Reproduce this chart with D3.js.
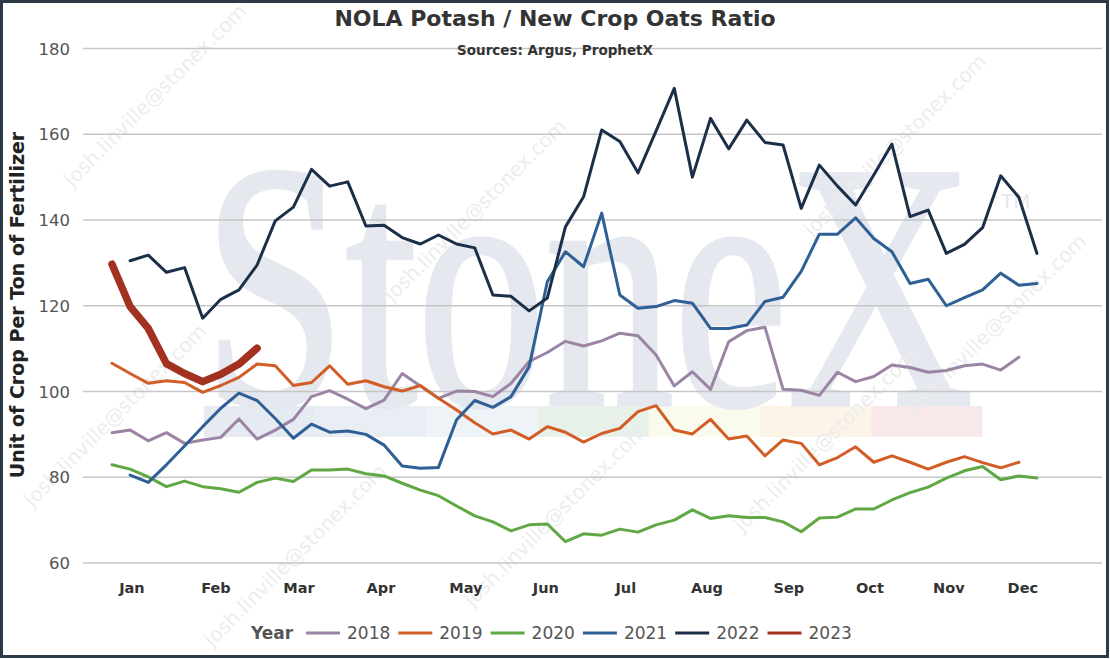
<!DOCTYPE html>
<html>
<head>
<meta charset="utf-8">
<script src="https://cdn.jsdelivr.net/npm/d3@7"></script>
<style>
  html, body { margin: 0; padding: 0; background: #fff; }
  svg { display: block; font-family: "DejaVu Sans", Verdana, sans-serif; }
</style>
</head>
<body>
<svg id="chart" width="1110" height="659"></svg>
<script>
  // weekly ratio values (index = week of year)
  const years = ['2018', '2019', '2020', '2021', '2022', '2023'];
  const startWeek = [0, 0, 0, 1, 1, 0];

  const y2018 = [90.4, 91.0, 88.5, 90.4, 87.9, 88.7, 89.3, 93.6, 88.9, 91.0, 93.5, 98.8, 100.2, 98.2, 96.0,
    98.0, 104.2, 101.3, 98.4, 100.1, 100.0, 98.8, 101.9, 107.0, 109.1, 111.7, 110.6, 111.8, 113.6, 113.0,
    108.5, 101.3, 104.6, 100.5, 111.6, 114.2, 115.0, 100.5, 100.3, 99.1, 104.5, 102.3, 103.5, 106.2, 105.6,
    104.5, 104.9, 106.0, 106.4, 105.0, 108.0];
  const y2019 = [106.6, 104.2, 101.9, 102.5, 102.1, 99.8, 101.4, 103.3, 106.4, 106.0, 101.4, 102.1, 106.0, 101.7,
    102.5, 101.1, 100.1, 101.4, 98.4, 95.7, 92.7, 90.1, 91.0, 88.9, 91.8, 90.5, 88.2, 90.2, 91.4, 95.3, 96.7,
    91.0, 90.1, 93.5, 88.9, 89.6, 85.0, 88.7, 87.9, 82.9, 84.6, 87.1, 83.5, 85.0, 83.5, 81.9, 83.5, 84.8,
    83.4, 82.2, 83.5];
  const y2020 = [82.9, 81.9, 80.1, 77.8, 79.1, 77.8, 77.3, 76.5, 78.8, 79.8, 79.0, 81.7, 81.7, 81.9, 80.8, 80.3,
    78.6, 77.0, 75.7, 73.3, 71.0, 69.6, 67.5, 68.9, 69.1, 65.0, 66.8, 66.5, 67.9, 67.2, 68.9, 70.0, 72.4,
    70.4, 71.0, 70.6, 70.6, 69.6, 67.3, 70.5, 70.7, 72.6, 72.6, 74.7, 76.4, 77.7, 79.8, 81.5, 82.5, 79.4,
    80.3, 79.8];
  const y2021 = [80.5, 78.8, 82.9, 87.3, 91.8, 96.1, 99.6, 97.9, 93.7, 89.1, 92.4, 90.5, 90.8, 90.0, 87.5, 82.6,
    82.1, 82.3, 93.4, 97.9, 96.3, 98.8, 105.8, 125.6, 132.6, 129.1, 141.6, 122.5, 119.4, 119.8, 121.2, 120.6,
    114.7, 114.7, 115.5, 121.0, 122.0, 128.0, 136.7, 136.7, 140.5, 135.7, 132.6, 125.2, 126.2, 120.0, 121.9,
    123.7, 127.6, 124.8, 125.2];
  const y2022 = [130.5, 131.8, 127.8, 128.9, 117.1, 121.5, 123.7, 129.5, 139.8, 143.0, 151.8, 147.9, 148.9, 138.6,
    138.8, 135.9, 134.4, 136.5, 134.4, 133.5, 122.5, 122.2, 118.8, 121.8, 138.4, 145.4, 161.0, 158.3, 151.0,
    160.8, 170.7, 150.0, 163.7, 156.6, 163.3, 158.1, 157.5, 142.7, 152.8, 147.9, 143.5, 150.5, 157.7, 140.8,
    142.3, 132.2, 134.3, 138.2, 150.3, 145.3, 132.2];
  const y2023 = [129.7, 119.8, 114.7, 106.5, 104.2, 102.3, 104.0, 106.4, 110.1];

  const seriesValues = [y2018, y2019, y2020, y2021, y2022, y2023];
  const colors = ['#9b84a4', '#d25d26', '#5fa844', '#2f6095', '#1c2f49', '#a2321f'];
  const widths = [3, 3, 3, 3, 3, 7.5];

  const monthNames = ['Jan', 'Feb', 'Mar', 'Apr', 'May', 'Jun', 'Jul', 'Aug', 'Sep', 'Oct', 'Nov', 'Dec'];
  const monthWeek = [1.1, 5.73, 10.31, 14.83, 19.51, 23.92, 28.33, 32.8, 37.32, 41.79, 46.14, 50.22];
  const yTicks = [60, 80, 100, 120, 140, 160, 180];

  const svg = d3.select('#chart');
  const x = d3.scaleLinear().domain([0, 51]).range([112, 1037]);
  const y = d3.scaleLinear().domain([60, 180]).range([563, 48.5]);
  const plotLeft = 83, plotRight = 1102;

  // watermark
  const wm = svg.append('g');
  const bands = ['#e6eaf1', '#e9edf4', '#eef3f8', '#e8f0ea', '#fafaee', '#fdf4e8', '#f9e8ea'];
  wm.selectAll('rect.band')
    .data(bands)
    .enter().append('rect')
    .attr('class', 'band')
    .attr('x', (d, i) => 204 + i * 111.2)
    .attr('y', 406)
    .attr('width', 111.2)
    .attr('height', 31)
    .attr('fill', d => d);

  wm.append('text')
    .attr('x', 203)
    .attr('y', 404)
    .attr('textLength', 770)
    .attr('lengthAdjust', 'spacingAndGlyphs')
    .style('font-family', '"Liberation Serif", "DejaVu Serif", serif')
    .style('font-size', '350px')
    .attr('fill', '#e5e8ef')
    .attr('stroke', '#e5e8ef')
    .attr('stroke-width', 5)
    .text('StoneX');
  wm.append('text')
    .attr('x', 1001)
    .attr('y', 208)
    .style('font-size', '20px')
    .attr('fill', '#e5e8ef')
    .text('TM');

  const marks = [[160, 100], [480, 215], [900, 150], [120, 420], [560, 520], [830, 445],
    [1000, 330], [300, 560]];
  wm.selectAll('text.mark')
    .data(marks)
    .enter().append('text')
    .attr('class', 'mark')
    .attr('transform', d => `translate(${d[0]},${d[1]}) rotate(-45)`)
    .attr('text-anchor', 'middle')
    .style('font-size', '20px')
    .attr('fill', '#ededed')
    .text('josh.linville@stonex.com');

  // grid + y labels
  svg.append('g')
    .selectAll('line')
    .data(yTicks)
    .enter().append('line')
    .attr('x1', plotLeft)
    .attr('x2', plotRight)
    .attr('y1', d => y(d))
    .attr('y2', d => y(d))
    .attr('stroke', '#c6c6c6')
    .attr('stroke-width', 1.5);

  svg.append('g')
    .selectAll('text')
    .data(yTicks)
    .enter().append('text')
    .attr('x', 70)
    .attr('y', d => y(d) + 6)
    .attr('text-anchor', 'end')
    .style('font-size', '16.5px')
    .attr('fill', '#555')
    .text(d => d);

  svg.append('g')
    .selectAll('text')
    .data(monthNames)
    .enter().append('text')
    .attr('x', (d, i) => x(monthWeek[i]))
    .attr('y', 593)
    .attr('text-anchor', 'middle')
    .style('font-size', '14.5px')
    .style('font-weight', 'bold')
    .attr('fill', '#333')
    .text(d => d);

  // lines
  const line = d3.line()
    .x(d => x(d[0]))
    .y(d => y(d[1]));

  seriesValues.forEach((vals, k) => {
    svg.append('path')
      .datum(vals.map((v, i) => [i + startWeek[k], v]))
      .attr('d', line)
      .attr('fill', 'none')
      .attr('stroke', colors[k])
      .attr('stroke-width', widths[k])
      .attr('stroke-linejoin', 'round')
      .attr('stroke-linecap', 'round');
  });

  // titles
  svg.append('text')
    .attr('x', 555)
    .attr('y', 26)
    .attr('text-anchor', 'middle')
    .style('font-size', '22px')
    .style('font-weight', 'bold')
    .attr('fill', '#333')
    .text('NOLA Potash / New Crop Oats Ratio');

  svg.append('text')
    .attr('x', 555)
    .attr('y', 55)
    .attr('text-anchor', 'middle')
    .style('font-size', '13.5px')
    .style('font-weight', 'bold')
    .attr('fill', '#333')
    .text('Sources: Argus, ProphetX');

  svg.append('text')
    .attr('transform', 'translate(24,305) rotate(-90)')
    .attr('text-anchor', 'middle')
    .style('font-size', '19px')
    .style('font-weight', 'bold')
    .attr('fill', '#222')
    .text('Unit of Crop Per Ton of Fertilizer');

  // legend
  const legend = svg.append('g').attr('transform', 'translate(0,633)');
  legend.append('text')
    .attr('x', 251)
    .attr('y', 6)
    .style('font-size', '17px')
    .style('font-weight', 'bold')
    .attr('fill', '#555')
    .text('Year');

  const item = legend.selectAll('g.item')
    .data(years)
    .enter().append('g')
    .attr('class', 'item')
    .attr('transform', (d, i) => `translate(${306 + i * 92.3},0)`);
  item.append('line')
    .attr('x1', 0)
    .attr('x2', 34)
    .attr('stroke', (d, i) => colors[i])
    .attr('stroke-width', 3);
  item.append('text')
    .attr('x', 41)
    .attr('y', 6)
    .style('font-size', '17px')
    .attr('fill', '#555')
    .text(d => d);

  // frame
  svg.append('rect')
    .attr('x', 1.5)
    .attr('y', 1.5)
    .attr('width', 1106)
    .attr('height', 655)
    .attr('fill', 'none')
    .attr('stroke', '#2c3a47')
    .attr('stroke-width', 3);
</script>
</body>
</html>
